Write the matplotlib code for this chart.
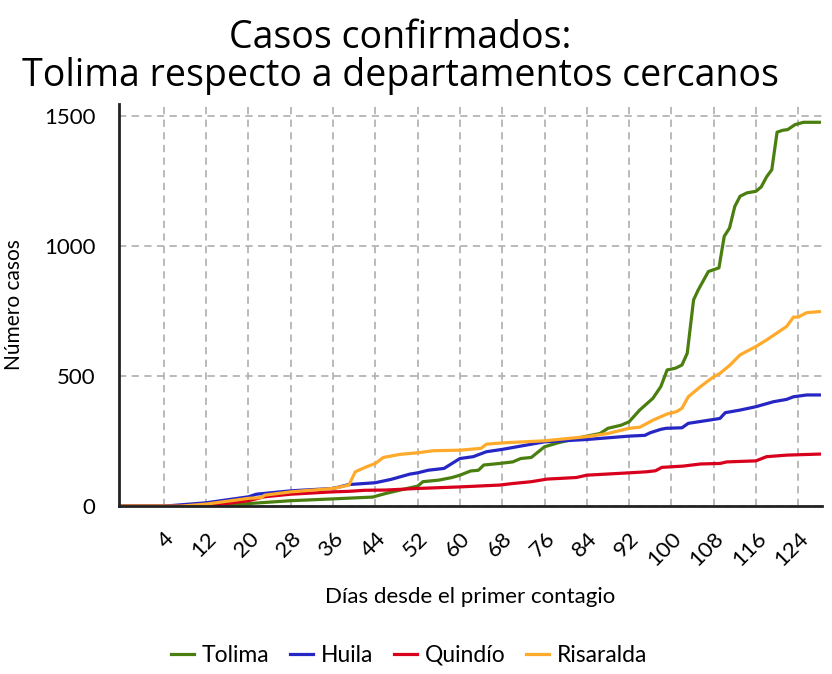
import matplotlib.pyplot as plt

plt.rcParams['font.family'] = ['Lato', 'DejaVu Sans']

# Días desde el primer contagio y casos acumulados
tolima_dias = [-4, 15, 20, 28, 36, 43.5, 46, 50, 52, 53, 56, 58.5, 60, 62, 63.5, 64.5,
               67.5, 70, 71.5, 73.5, 76, 78.5, 84, 86.5, 88, 90.5, 92, 94, 96.5, 98,
               99.2, 100.8, 102, 103, 104.2, 105.1, 107, 109, 110, 111, 112, 113,
               114.3, 116, 117, 118, 119, 120, 121, 122, 123.4, 125, 128]
tolima_casos = [0, 0, 10, 21, 28, 35, 49, 68, 77, 94, 100, 110, 119, 135, 138, 158,
                164, 170, 183, 187, 228, 243, 269, 279, 299, 311, 324, 369, 414, 459,
                523, 530, 542, 587, 792, 831, 901, 915, 1036, 1068, 1151, 1190,
                1203, 1209, 1226, 1264, 1292, 1436, 1443, 1446, 1465, 1474, 1474]

huila_dias = [-4, 4, 12, 20, 21.5, 28, 36, 39, 44, 47, 50.5, 52, 54, 57, 60, 62.5,
              65, 68, 76, 84, 92, 95, 96, 98, 99, 102, 103.2, 108, 109.2, 110.2,
              113, 116, 119.3, 121.8, 123.1, 125.6, 128]
huila_casos = [0, 0, 13, 36, 46, 59, 68, 83, 90, 103, 123, 128, 138, 145, 183, 190,
               209, 218, 247, 256, 269, 272, 282, 295, 299, 301, 318, 333, 337, 359,
               369, 382, 401, 410, 420, 427, 427]

quindio_dias = [-4, 12, 20, 23, 28, 36, 39, 42, 46, 52, 60, 67.5, 70, 73.5, 76.5,
                82, 84, 92, 95.3, 97, 98.2, 102.3, 105.5, 109.2, 110.5, 116, 118,
                121.8, 128]
quindio_casos = [0, 0, 21, 36, 46, 55, 57, 61, 62, 68, 74, 81, 87, 94, 104,
                 110, 119, 128, 132, 136, 149, 154, 162, 164, 170, 174, 190,
                 196, 200]

risaralda_dias = [-4, 7, 12, 20, 22.5, 23, 28, 36, 39, 40.2, 42.3, 44, 45.5, 48.7,
                  52, 55, 60, 64, 65, 68, 76, 84, 88, 92, 94, 96.6, 99.2, 101, 102,
                  103.2, 105.5, 108, 109.2, 111.1, 113, 116, 118, 121.8, 123.1, 124,
                  125.6, 128]
risaralda_casos = [0, 0, 8, 30, 33, 42, 55, 68, 81, 132, 151, 164, 187, 199,
                   205, 213, 215, 222, 238, 243, 251, 267, 279, 299, 303, 331, 354,
                   363, 376, 420, 459, 497, 510, 542, 581, 613, 638, 690, 726, 726,
                   743, 747]

ticks_x = list(range(4, 125, 8))
ticks_y = [0, 500, 1000, 1500]

fig = plt.figure(figsize=(8.32, 6.74), dpi=100)
ax = fig.add_axes([0.143, 0.249, 0.845, 0.597])

ax.plot(tolima_dias, tolima_casos, color='#4a7f10', lw=2.3, label='Tolima')
ax.plot(huila_dias, huila_casos, color='#2626c4', lw=2.3, label='Huila')
ax.plot(quindio_dias, quindio_casos, color='#d8001c', lw=2.3, label='Quindío')
ax.plot(risaralda_dias, risaralda_casos, color='#ffaa2a', lw=2.3, label='Risaralda')

ax.set_xlim(-4.5, 128.5)
ax.set_ylim(0, 1545)
ax.set_xticks(ticks_x)
ax.set_xticklabels([str(t) for t in ticks_x], rotation=45, ha='right',
                   va='top', rotation_mode='anchor', fontsize=16)
ax.set_yticks(ticks_y)
ax.set_yticklabels([str(t) for t in ticks_y], fontsize=16)
ax.tick_params(axis='both', length=0)
ax.tick_params(axis='x', pad=16)
ax.tick_params(axis='y', pad=17)

ax.grid(True, color='#b4b4b4', linestyle=(0, (4, 3)), lw=1.3)
ax.set_axisbelow(True)
for s in ['top', 'right']:
    ax.spines[s].set_visible(False)
for s in ['left', 'bottom']:
    ax.spines[s].set_linewidth(2)
    ax.spines[s].set_color('#222222')

ax.set_xlabel('Días desde el primer contagio', fontsize=16, labelpad=12)
ax.set_ylabel('Número casos', fontsize=15, labelpad=14)

fig.text(0.481, 0.972, 'Casos confirmados:\nTolima respecto a departamentos cercanos',
         ha='center', va='top', fontsize=27, linespacing=1.0, family='Open Sans')

fig.legend(loc='center', bbox_to_anchor=(0.492, 0.028), ncol=4, frameon=False,
           fontsize=16.5, handlelength=1.0, columnspacing=0.9, handletextpad=0.35)

fig.savefig('out.png', dpi=100)
